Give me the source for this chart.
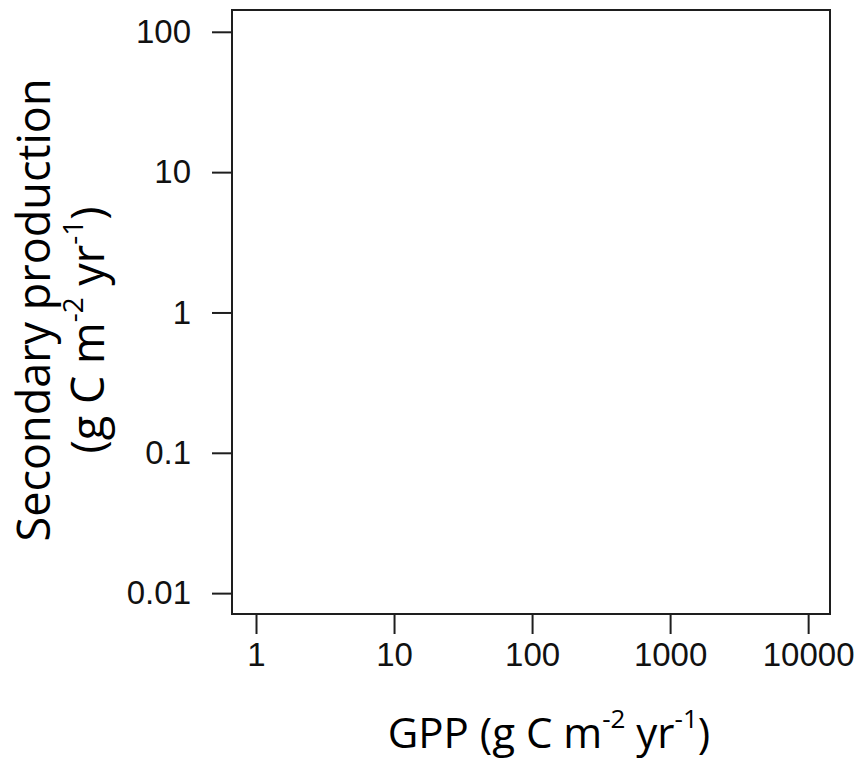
<!DOCTYPE html>
<html>
<head>
<meta charset="utf-8">
<script src="https://cdn.jsdelivr.net/npm/d3@7"></script>
<style>
  body { margin: 0; background: #fff; }
  .tick text { font-family: 'Liberation Sans', Arial, sans-serif; }
</style>
</head>
<body>
<div id="chart"></div>
<script>
// axis ticks (log scales, no data points visible in the panel)
const xTicks = [1, 10, 100, 1000, 10000]
const yTicks = [0.01, 0.1, 1, 10, 100]
const xDomain = [0.67, 14400]
const yDomain = [0.0071, 143]

const width = 858
const height = 762
const margin = { top: 10, right: 28, bottom: 148, left: 232 }

const svg = d3
  .select('#chart')
  .append('svg')
  .attr('width', width)
  .attr('height', height)

const x = d3
  .scaleLog()
  .domain(xDomain)
  .range([margin.left, width - margin.right])

const y = d3
  .scaleLog()
  .domain(yDomain)
  .range([height - margin.bottom, margin.top])

const ink = '#1e1e1e'

// x axis
const xAxis = svg
  .append('g')
  .attr('transform', `translate(0,${height - margin.bottom})`)
  .call(
    d3
      .axisBottom(x)
      .tickValues(xTicks)
      .tickSize(20)
      .tickPadding(9)
      .tickFormat(d => d)
  )
xAxis.select('.domain').remove()
xAxis.selectAll('line').attr('stroke', ink).attr('stroke-width', 2)
xAxis.selectAll('text').attr('font-size', 33).style('font-size', '33px').attr('fill', '#111')

// y axis
const yAxis = svg
  .append('g')
  .attr('transform', `translate(${margin.left},0)`)
  .call(
    d3
      .axisLeft(y)
      .tickValues(yTicks)
      .tickSize(20)
      .tickPadding(21)
      .tickFormat(d => d)
  )
yAxis.select('.domain').remove()
yAxis.selectAll('line').attr('stroke', ink).attr('stroke-width', 2)
yAxis.selectAll('text').attr('font-size', 33).style('font-size', '33px').attr('fill', '#111')

// box around the panel
svg
  .append('rect')
  .attr('x', margin.left)
  .attr('y', margin.top)
  .attr('width', width - margin.left - margin.right)
  .attr('height', height - margin.top - margin.bottom)
  .attr('fill', 'none')
  .attr('stroke', ink)
  .attr('stroke-width', 2)

// unit label with superscripts
function units(sel, open) {
  sel.append('tspan').text(open)
  sel.append('tspan').text('-2').attr('font-size', '0.62em').attr('dy', '-0.75em')
  sel.append('tspan').text(' yr').attr('dy', '0.465em')
  sel.append('tspan').text('-1').attr('font-size', '0.62em').attr('dy', '-0.75em')
  sel.append('tspan').text(')').attr('dy', '0.465em')
}

const titleFont = "'Open Sans', 'Noto Sans', sans-serif"

// x title
const xt = svg
  .append('text')
  .attr('x', 549)
  .attr('y', 748)
  .attr('text-anchor', 'middle')
  .attr('font-family', titleFont)
  .attr('font-size', 42)
  .attr('fill', '#000')
xt.append('tspan').text('GPP ')
units(xt, '(g C m')

// y title
const yt = svg
  .append('g')
  .attr('transform', 'translate(0,310) rotate(-90)')
  .attr('font-family', titleFont)
  .attr('font-size', 45)
  .attr('fill', '#000')
  .attr('text-anchor', 'middle')

yt.append('text').attr('x', 0).attr('y', 50).text('Secondary production')

const yt2 = yt.append('text').attr('x', -20).attr('y', 104)
units(yt2, '(g  C m')
</script>
</body>
</html>
